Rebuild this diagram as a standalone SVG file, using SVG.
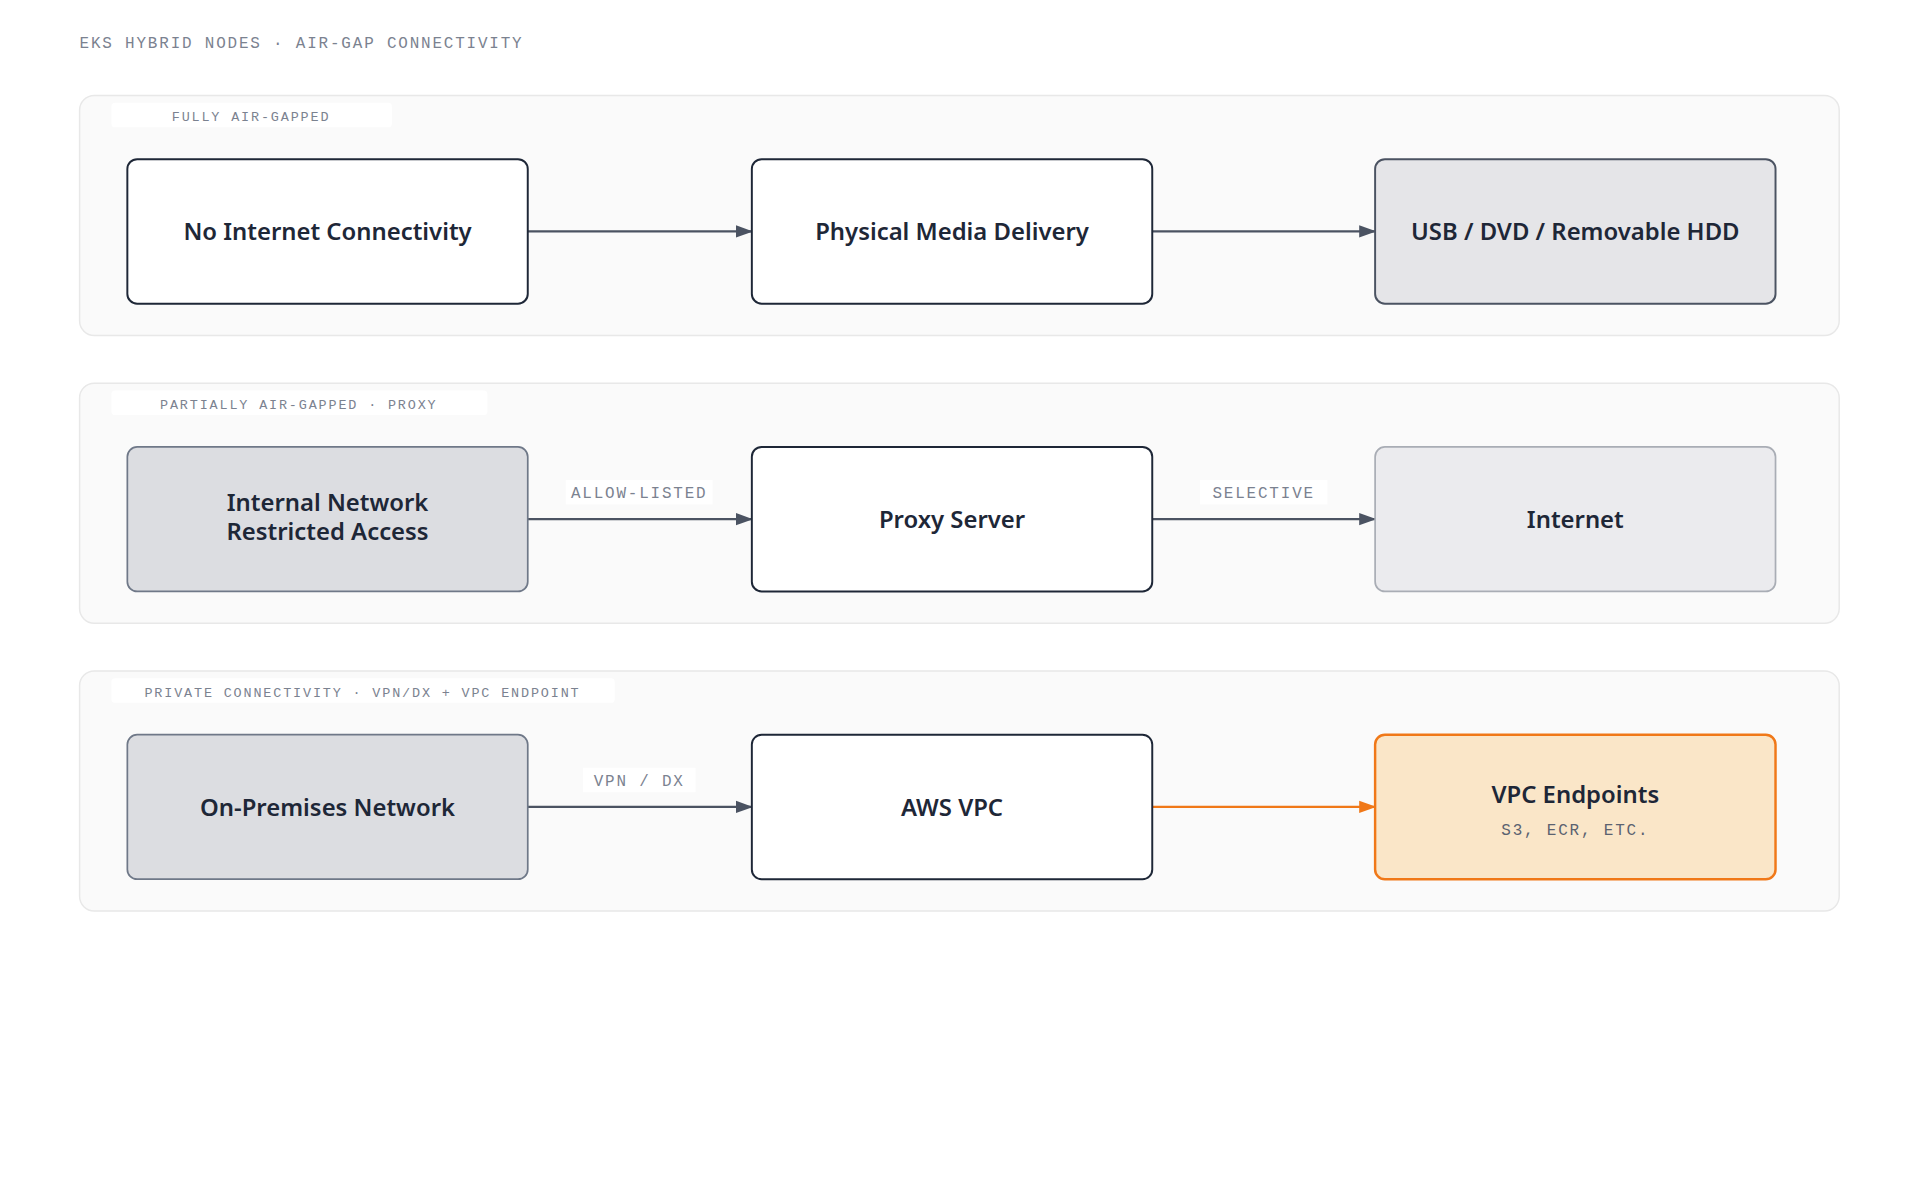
<svg xmlns="http://www.w3.org/2000/svg" width="1920" height="1200" viewBox="0 0 1920 1200">
<style>
.grp{fill:#fafafa;stroke:#e8e8e8;stroke-width:1.2}
.lblbg{fill:#ffffff}
.mono{font-family:"Liberation Mono","DejaVu Sans Mono",monospace;fill:#7b8290;letter-spacing:1.5px}
.t{font-family:"Noto Sans","Open Sans",sans-serif;font-weight:600;font-size:19.5px;fill:#1e2737;text-anchor:middle}
.w{fill:#ffffff;stroke:#1e2737;stroke-width:1.6}
.g{fill:#dcdde1;stroke:#6f7888;stroke-width:1.4}
.l{fill:#ebebee;stroke:#a9adb5;stroke-width:1.4}
.u{fill:#e5e5e8;stroke:#4b5362;stroke-width:1.6}
.o{fill:#fae6c8;stroke:#f07818;stroke-width:2}
.c{stroke:#4b5362;stroke-width:1.8;fill:none}
.co{stroke:#f07818;stroke-width:1.8;fill:none}
</style>
<defs>
<marker id="ah" markerWidth="14" markerHeight="12" refX="13" refY="6" orient="auto" markerUnits="userSpaceOnUse"><path d="M0,1 L14,6 L0,11 z" fill="#4b5362"/></marker>
<marker id="aho" markerWidth="14" markerHeight="12" refX="13" refY="6" orient="auto" markerUnits="userSpaceOnUse"><path d="M0,1 L14,6 L0,11 z" fill="#f07818"/></marker>
</defs>
<rect width="1920" height="1200" fill="#ffffff"/>
<g transform="scale(1.2245)">
<text class="mono" x="65" y="39" font-size="13" letter-spacing="3.3">EKS HYBRID NODES · AIR-GAP CONNECTIVITY</text>
<g id="group1">
<rect class="grp" x="65" y="78" width="1437" height="196" rx="12"/>
<rect class="lblbg" x="91" y="84" width="229" height="20" rx="3"/>
<text class="mono" x="205" y="99" font-size="11" letter-spacing="1.1" text-anchor="middle">FULLY AIR-GAPPED</text>
</g>
<g id="group2">
<rect class="grp" x="65" y="313" width="1437" height="196" rx="12"/>
<rect class="lblbg" x="91" y="319" width="307" height="20" rx="3"/>
<text class="mono" x="244" y="334" font-size="11" letter-spacing="1.1" text-anchor="middle">PARTIALLY AIR-GAPPED · PROXY</text>
</g>
<g id="group3">
<rect class="grp" x="65" y="548" width="1437" height="196" rx="12"/>
<rect class="lblbg" x="91" y="554" width="411" height="20" rx="3"/>
<text class="mono" x="296" y="569" font-size="11" letter-spacing="1.1" text-anchor="middle">PRIVATE CONNECTIVITY · VPN/DX + VPC ENDPOINT</text>
</g>
<g id="connectors">
<path class="c" d="M431,189 H614" marker-end="url(#ah)"/>
<path class="c" d="M941,189 H1123" marker-end="url(#ah)"/>
<rect class="lblbg" x="462" y="392" width="120" height="20"/>
<text class="mono" x="522" y="407" font-size="13" text-anchor="middle">ALLOW-LISTED</text>
<path class="c" d="M431,424 H614" marker-end="url(#ah)"/>
<rect class="lblbg" x="980" y="392" width="104" height="20"/>
<text class="mono" x="1032" y="407" font-size="13" text-anchor="middle">SELECTIVE</text>
<path class="c" d="M941,424 H1123" marker-end="url(#ah)"/>
<rect class="lblbg" x="476" y="627" width="92" height="20"/>
<text class="mono" x="522" y="642" font-size="13" text-anchor="middle">VPN / DX</text>
<path class="c" d="M431,659 H614" marker-end="url(#ah)"/>
<path class="co" d="M941,659 H1123" marker-end="url(#aho)"/>
</g>
<g id="n1"><rect class="w" x="104" y="130" width="327" height="118" rx="8"/><text class="t" x="267.5" y="196">No Internet Connectivity</text></g>
<g id="n2"><rect class="w" x="614" y="130" width="327" height="118" rx="8"/><text class="t" x="777.5" y="196">Physical Media Delivery</text></g>
<g id="n3"><rect class="u" x="1123" y="130" width="327" height="118" rx="8"/><text class="t" x="1286.5" y="196">USB / DVD / Removable HDD</text></g>
<g id="n4"><rect class="g" x="104" y="365" width="327" height="118" rx="8"/><text class="t" x="267.5" y="417">Internal Network</text><text class="t" x="267.5" y="441">Restricted Access</text></g>
<g id="n5"><rect class="w" x="614" y="365" width="327" height="118" rx="8"/><text class="t" x="777.5" y="431">Proxy Server</text></g>
<g id="n6"><rect class="l" x="1123" y="365" width="327" height="118" rx="8"/><text class="t" x="1286.5" y="431">Internet</text></g>
<g id="n7"><rect class="g" x="104" y="600" width="327" height="118" rx="8"/><text class="t" x="267.5" y="666">On-Premises Network</text></g>
<g id="n8"><rect class="w" x="614" y="600" width="327" height="118" rx="8"/><text class="t" x="777.5" y="666">AWS VPC</text></g>
<g id="n9"><rect class="o" x="1123" y="600" width="327" height="118" rx="8"/><text class="t" x="1286.5" y="656">VPC Endpoints</text><text class="mono" x="1286.5" y="682" font-size="13" letter-spacing="0.5" text-anchor="middle" style="fill:#5b6270">S3, ECR, ETC.</text></g>
</g>
</svg>
